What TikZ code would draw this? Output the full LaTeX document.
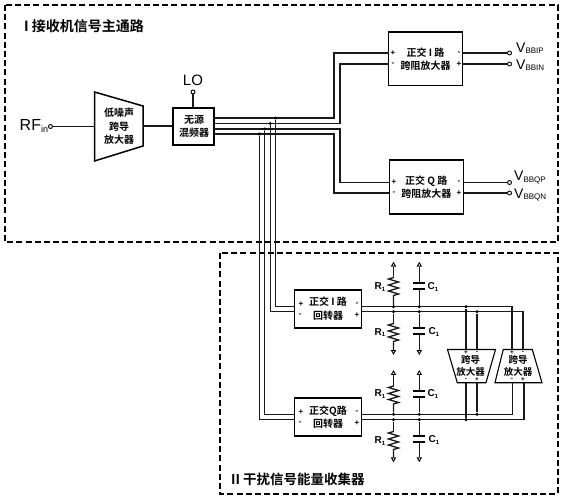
\documentclass[tikz,border=0pt]{standalone}
\usepackage{fontspec}
\setmainfont{Liberation Sans}
\newfontfamily\cjk{Noto Sans CJK SC}[BoldFont={Noto Sans CJK SC Bold}]
\usetikzlibrary{shapes.geometric,calc}
\newcommand{\subs}[2]{\raisebox{-1.6pt}{\fontsize{#1}{#1}\selectfont #2}}
\tikzset{
 wire/.style={line width=1.3pt,black!90},
 blockb/.style={draw,line width=1.5pt,fill=white},
 frame/.style={draw,line width=1.7pt,dash pattern=on 6pt off 3.2pt},
 cn/.style={font=\cjk\bfseries\fontsize{10}{10}\selectfont,inner sep=0pt},
 titlen/.style={font=\bfseries\cjk\fontsize{14}{14}\selectfont,inner sep=0pt,anchor=west},
 sign/.style={font=\bfseries\fontsize{8}{8}\selectfont,inner sep=0pt},
 term/.style={circle,draw,fill=white,line width=.9pt,inner sep=0pt,minimum size=4pt},
 dotn/.style={circle,fill=black,inner sep=0pt,minimum size=3.4pt},
 tri/.style={regular polygon,regular polygon sides=3,draw,fill=white,line width=.9pt,inner sep=0pt,minimum size=4.6pt},
 tridown/.style={tri,shape border rotate=180},
 vlab/.style={inner sep=0pt,anchor=west,font=\fontsize{14}{14}\selectfont},
 rclab/.style={inner sep=0pt,font=\bfseries\fontsize{10}{10}\selectfont},
}
% vertical zigzag resistor between two named points
\newcommand{\resv}[2]{%
 \draw[wire] (#1) -- ($(#1)+(0,1)$) -- ++(-5,1.5) -- ++(10,3) -- ++(-10,3) -- ++(10,3) -- ++(-10,3) -- ++(10,3) -- ++(-5,1.5) -- (#2);}
% vertical capacitor: plates at two named points
\newcommand{\capv}[2]{%
 \draw[line width=1.6pt] ($(#1)+(-6,0)$) -- ($(#1)+(6,0)$);
 \draw[line width=1.6pt] ($(#2)+(-6,0)$) -- ($(#2)+(6,0)$);}
\begin{document}
\begin{tikzpicture}[x=1pt,y=-1pt]
\useasboundingbox (0,0) rectangle (563,500);
\fill[white] (0,0) rectangle (563,500);
% frames
\coordinate (fa1) at (5,5); \coordinate (fa2) at (558,242);
\coordinate (fb1) at (220,253); \coordinate (fb2) at (558,494);
\draw[frame] (fa1) rectangle (fa2);
\draw[frame] (fb1) rectangle (fb2);
\node[titlen] (t1) at (24,26) {I 接收机信号主通路};
\node[titlen,font=\bfseries\cjk\fontsize{13.5}{13.5}\selectfont] (t2) at (231,479) {II 干扰信号能量收集器};
% LNA
\coordinate (l1) at (94.5,92); \coordinate (l2) at (143,106); \coordinate (l3) at (143,146); \coordinate (l4) at (94.5,161);
\coordinate (lin) at (94.5,126.5); \coordinate (lout) at (143,126);
\draw[line width=1.5pt] (l1) -- (l2) -- (l3) -- (l4) -- cycle;
\node[cn] (lt1) at (119,113) {低噪声};
\node[cn] (lt2) at (119,126.5) {跨导};
\node[cn] (lt3) at (119,140) {放大器};
\node[inner sep=0pt,anchor=west,font=\fontsize{16}{16}\selectfont] (rf) at (19.5,126) {RF\subs{9}{in}};
\node[term] (rft) at (50.5,126.5) {};
\draw[wire] (rft) -- (lin);
% mixer
\node[blockb,minimum width=41pt,minimum height=37pt,inner sep=0pt] (mix) at (193.5,126.5) {};
\node[cn] (mt1) at (194,120) {无源};
\node[cn] (mt2) at (194,133) {混频器};
\draw[wire] (lout) -- (lout -| mix.west);
\node[term] (lot) at (193,92) {};
\node[inner sep=0pt,font=\fontsize{15}{15}\selectfont] (lo) at (193,80) {LO};
\draw[wire] (lot) -- (lot |- mix.north);
% TIA boxes
\node[blockb,minimum width=74pt,minimum height=53.5pt,inner sep=0pt] (ti) at (425.5,58.75) {};
\node[blockb,minimum width=74pt,minimum height=54pt,inner sep=0pt] (tq) at (426.3,187) {};
\node[cn] at (ti.center) [yshift=6.5pt] {正交 I 路};
\node[cn] at (ti.center) [yshift=-6.5pt] {跨阻放大器};
\node[cn] at (tq.center) [yshift=6pt] {正交 Q 路};
\node[cn] at (tq.center) [yshift=-6.5pt] {跨阻放大器};
\foreach \b/\yy/\xx in {ti/53/393,tq/182.5/394}{
 \node[sign] at (\xx,\yy) {+}; \node[sign] at (\xx,\yy+11) {-};
 \node[sign] at (459,\yy) {-}; \node[sign] at (459,\yy+11) {+};
}
% mixer wires to TIA
\coordinate (m1) at (214,118); \coordinate (m2) at (214,123.5); \coordinate (m3) at (214,129); \coordinate (m4) at (214,134);
\coordinate (ti1) at (388.5,53); \coordinate (ti2) at (388.5,64);
\coordinate (tq1) at (389.3,182.5); \coordinate (tq2) at (389.3,193);
\coordinate (k1) at (334,118); \coordinate (k2) at (340,123.5); \coordinate (k3) at (340,129); \coordinate (k4) at (334,134);
\draw[wire] (m1) -- (k1) -- (k1 |- ti1) -- (ti1);
\draw[wire] (m2) -- (k2) -- (k2 |- ti2) -- (ti2);
\draw[wire] (m3) -- (k3) -- (k3 |- tq1) -- (tq1);
\draw[wire] (m4) -- (k4) -- (k4 |- tq2) -- (tq2);
% TIA outputs
\node[term] (vi1) at (509.5,53) {}; \node[term] (vi2) at (509.5,64) {};
\node[term] (vq1) at (509.5,182.5) {}; \node[term] (vq2) at (509.5,193) {};
\draw[wire] (ti.east |- vi1) -- (vi1);
\draw[wire] (ti.east |- vi2) -- (vi2);
\draw[wire] (tq.east |- vq1) -- (vq1);
\draw[wire] (tq.east |- vq2) -- (vq2);
\node[vlab] at (516,48) {V\subs{8}{BBIP}};
\node[vlab] at (516,65) {V\subs{8}{BBIN}};
\node[vlab] at (514,177.5) {V\subs{8}{BBQP}};
\node[vlab] at (514,195) {V\subs{8}{BBQN}};
% gyrators
\node[blockb,minimum width=67pt,minimum height=38pt,inner sep=0pt] (gi) at (328,309) {};
\node[blockb,minimum width=67pt,minimum height=38pt,inner sep=0pt] (gq) at (328,417) {};
\node[cn] at (328,302) {正交 I 路};
\node[cn] at (328,316) {回转器};
\node[cn] at (328,411) {正交Q路};
\node[cn] at (328,424) {回转器};
\foreach \yy in {304,412}{
 \node[sign] at (301,\yy) {+}; \node[sign] at (300,\yy+11) {-};
 \node[sign] at (357,\yy) {-}; \node[sign] at (357,\yy+11) {+};
}
% taps from the mixer wires to the gyrators
\node[dotn] (d1) at (275.7,118) {}; \node[dotn] (d2) at (270.2,123.5) {};
\node[dotn] (d3) at (264.7,129) {}; \node[dotn] (d4) at (259.3,134) {};
\coordinate (gi1) at (294.5,306.7); \coordinate (gi2) at (294.5,311.7);
\coordinate (gq1) at (294.5,414.3); \coordinate (gq2) at (294.5,419.7);
\draw[wire] (d1) -- (d1 |- gi1) -- (gi1);
\draw[wire] (d2) -- (d2 |- gi2) -- (gi2);
\draw[wire] (d3) -- (d3 |- gq1) -- (gq1);
\draw[wire] (d4) -- (d4 |- gq2) -- (gq2);
% amplifiers
\coordinate (a1a) at (447.5,349.5); \coordinate (a1b) at (495.5,349.5); \coordinate (a1c) at (486,382.7); \coordinate (a1d) at (457.3,382.7);
\coordinate (a2a) at (503.3,349.5); \coordinate (a2b) at (532.3,349.5); \coordinate (a2c) at (542,382.7); \coordinate (a2d) at (495,382.7);
% bus nodes
\coordinate (gio1) at (361.5,306.7); \coordinate (gio2) at (361.5,311.7);
\coordinate (gqo1) at (361.5,414.3); \coordinate (gqo2) at (361.5,419.7);
\coordinate (e1) at (512,306.7); \coordinate (e2) at (523,311.7);
\coordinate (e3) at (512.7,414.3); \coordinate (e4) at (524,419.7);
\draw[wire] (gio1) -- (e1) -- (e1 |- a2a);
\draw[wire] (gio2) -- (e2) -- (e2 |- a2a);
\draw[wire] (gqo1) -- (e3) -- (e3 |- a2c);
\draw[wire] (gqo2) -- (e4) -- (e4 |- a2c);
\node[dotn] (b1) at (466,306.7) {}; \node[dotn] (b2) at (477,311.7) {};
\node[dotn] (b3) at (477,414.3) {}; \node[dotn] (b4) at (466,419.7) {};
\draw[wire] (b1) -- (b4);
\draw[wire] (b2) -- (b3);
\draw[line width=1.1pt,fill=white] (a1a) -- (a1b) -- (a1c) -- (a1d) -- cycle;
\draw[line width=1.1pt,fill=white] (a2a) -- (a2b) -- (a2c) -- (a2d) -- cycle;
\node[cn,font=\cjk\bfseries\fontsize{9.5}{9.5}\selectfont] at (470.5,360) {跨导};
\node[cn,font=\cjk\bfseries\fontsize{9.5}{9.5}\selectfont] at (470.5,371.5) {放大器};
\node[cn,font=\cjk\bfseries\fontsize{9.5}{9.5}\selectfont] at (518,360) {跨导};
\node[cn,font=\cjk\bfseries\fontsize{9.5}{9.5}\selectfont] at (518,371.5) {放大器};
\foreach \xa/\xb in {466/477,512/523}{
 \node[sign,font=\bfseries\fontsize{6.5}{6.5}\selectfont] at (\xa,352.5) {+};
 \node[sign,font=\bfseries\fontsize{6.5}{6.5}\selectfont] at (\xb,352.5) {-};
 \node[sign,font=\bfseries\fontsize{6.5}{6.5}\selectfont] at (\xa,379.5) {-};
 \node[sign,font=\bfseries\fontsize{6.5}{6.5}\selectfont] at (\xb,379.5) {+};
}
% resistor and capacitor columns
\foreach \n/\ya/\yb/\yc/\yd/\ye/\yf/\cpa/\cpb/\cpc/\cpd in {
  A/265/276.5/306.7/311.7/322.5/351.7/283.3/289.3/328/334,
  B/373.3/385/414.3/419.7/430.5/459/391/397/436/442}{
 \node[tri] (ru\n) at (393.5,\ya) {};
 \node[tridown] (rd\n) at (393.5,\yf) {};
 \node[tri] (cu\n) at (419.3,\ya) {};
 \node[tridown] (cd\n) at (419.3,\yf) {};
 \node[dotn] (r1\n) at (393.5,\yc) {};
 \node[dotn] (r2\n) at (393.5,\yd) {};
 \node[dotn] (c1\n) at (419.3,\yc) {};
 \node[dotn] (c2\n) at (419.3,\yd) {};
 \coordinate (zt\n) at (393.5,\yb);
 \coordinate (zb\n) at (393.5,\ye);
 \draw[wire] (ru\n) -- (zt\n);
 \resv{zt\n}{r1\n}
 \draw[wire] (r2\n) -- (zb\n);
 \resv{zb\n}{rd\n}
 \coordinate (p1\n) at (419.3,\cpa); \coordinate (p2\n) at (419.3,\cpb);
 \coordinate (p3\n) at (419.3,\cpc); \coordinate (p4\n) at (419.3,\cpd);
 \draw[wire] (cu\n) -- (p1\n);
 \draw[wire] (p2\n) -- (c1\n);
 \draw[wire] (c2\n) -- (p3\n);
 \draw[wire] (p4\n) -- (cd\n);
 \capv{p1\n}{p2\n}
 \capv{p3\n}{p4\n}
}
\foreach \xx/\yy in {380/287,380/332.7,380/394,380/441}{
 \node[rclab] at (\xx,\yy) {R\subs{6}{1}};
}
\foreach \xx/\yy in {433/287,434/332,433/394,434/440}{
 \node[rclab] at (\xx,\yy) {C\subs{6}{1}};
}
\end{tikzpicture}
\end{document}
